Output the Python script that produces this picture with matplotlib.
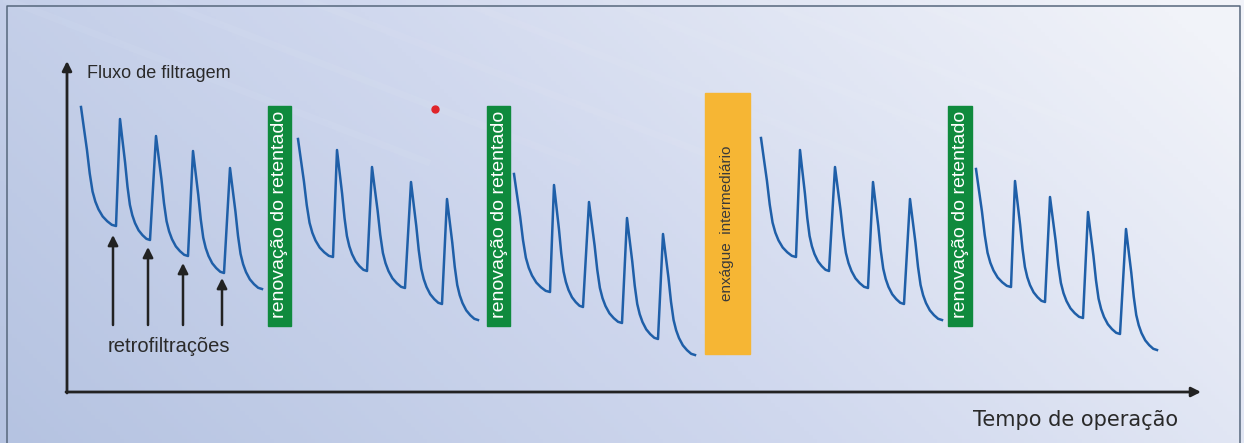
import numpy as np
import matplotlib
matplotlib.use("Agg")
import matplotlib.pyplot as plt
from matplotlib.patches import Rectangle
from matplotlib.colors import LinearSegmentedColormap

# ---------------- DATA (time / flux units, origin at the axes corner) ----------------
# peaks and troughs of each filtration run (5 runs, 5 cycles each)
peak_t = [
    [14, 53, 89, 126, 163],
    [231, 270, 305, 344, 380],
    [447, 487, 522, 560, 596],
    [694, 733, 768, 806, 843],
    [909, 948, 983, 1021, 1059],
]
peak_f = [
    [285, 273, 256, 241, 224],
    [253, 242, 225, 210, 193],
    [218, 207, 190, 174, 158],
    [254, 242, 225, 210, 193],
    [223, 211, 195, 180, 163],
]
trough_t = [
    [49, 83, 121, 157, 195],
    [266, 300, 338, 375, 411],
    [483, 516, 555, 591, 628],
    [729, 762, 801, 837, 875],
    [944, 978, 1016, 1053, 1090],
]
trough_f = [
    [166, 152, 136, 119, 103],
    [135, 121, 104, 88, 72],
    [100, 85, 69, 53, 37],
    [135, 121, 104, 88, 72],
    [105, 90, 74, 58, 42],
]

# shape of one fouling decay (fraction of run / fraction of drop)
decay_fx = [0, 0.075, 0.17, 0.25, 0.33, 0.41, 0.50, 0.62, 0.75, 0.88, 1.0]
decay_fy = [0, 0.16, 0.36, 0.56, 0.71, 0.795, 0.86, 0.92, 0.96, 0.99, 1.0]

# events between runs
event_start = [201, 420, 638, 881]
event_end = [224, 443, 683, 905]
event_labels = ["renovação do retentado", "renovação do retentado",
                "enxágue  intermediário", "renovação do retentado"]

# backflush arrows
backflush_t = [46, 81, 116, 155]
backflush_f = [157, 145, 129, 114]

# ---------------- FIGURE ----------------
fig = plt.figure(figsize=(12.44, 4.43), dpi=100)
ax = fig.add_axes([0, 0, 1, 1])
ax.set_xlim(-67, 1177)
ax.set_ylim(-51, 392)
ax.axis("off")

# background gradient
gx, gy = np.meshgrid(np.linspace(0, 1, 300), np.linspace(1, 0, 110))
grad = 0.8 * gx + 0.3 * gy
cmap = LinearSegmentedColormap.from_list("bg", ["#b5c3e1", "#d0d8ee", "#f1f3f9"])
ax.imshow(grad, extent=[-67, 1177, -51, 392], aspect="auto", cmap=cmap,
          vmin=0.0, vmax=1.05, zorder=0)
# faint diagonal streaks
for k in range(9):
    t0 = -60 + k * 150
    ax.plot([t0, t0 + 420], [392, 230], color="white", alpha=0.05, lw=5, zorder=0.5)

# frame
ax.plot([-60, -60, 1173, 1173], [-51, 386, 386, -51], color="#56677c", lw=1.1, zorder=1)

# flux curve
for r in range(len(peak_t)):
    ts, fs = [], []
    for c in range(len(peak_t[r])):
        t0, f0 = peak_t[r][c], peak_f[r][c]
        t1, f1 = trough_t[r][c], trough_f[r][c]
        for fx, fy in zip(decay_fx, decay_fy):
            ts.append(t0 + fx * (t1 - t0))
            fs.append(f0 + fy * (f1 - f0))
    ax.plot(ts, fs, color="#1f5fa8", lw=1.8, solid_joinstyle="round", zorder=3)

# events
for s, e, lab in zip(event_start, event_end, event_labels):
    if "enx" in lab:
        ax.add_patch(Rectangle((s, 38), e - s, 261, color="#f6b634", zorder=2))
        ax.text((s + e) / 2, 169, lab, rotation=90, ha="center", va="center",
                fontsize=11, color="#3a3a3a", family="Liberation Sans", zorder=4)
    else:
        ax.add_patch(Rectangle((s, 66), e - s, 220, color="#0f8a3d", zorder=2))
        ax.text((s + e) / 2 + 0.5, 178, lab, rotation=90, ha="center", va="center",
                fontsize=14, color="white", family="Liberation Sans", zorder=4)

# axes arrows
arrow_kw = dict(arrowstyle="-|>", lw=2, color="#222222", mutation_scale=14,
                shrinkA=0, shrinkB=0)
ax.annotate("", xy=(0, 331), xytext=(0, -1), arrowprops=arrow_kw, zorder=5)
ax.annotate("", xy=(1134, 0), xytext=(-1, 0), arrowprops=arrow_kw, zorder=5)

# backflush arrows
for t, f in zip(backflush_t, backflush_f):
    ax.annotate("", xy=(t, f), xytext=(t, 67),
                arrowprops=dict(arrowstyle="-|>", lw=1.8, color="#222222",
                                mutation_scale=15, shrinkA=0, shrinkB=0), zorder=5)

# labels
ax.text(20, 319, "Fluxo de filtragem", ha="left", va="center", fontsize=13,
        color="#2a2a2a", family="Liberation Sans")
ax.text(102, 45, "retrofiltrações", ha="center", va="center", fontsize=14.5,
        color="#2a2a2a", family="Liberation Sans")
ax.text(1009, -28, "Tempo de operação", ha="center", va="center", fontsize=15,
        color="#2a2a2a", family="DejaVu Sans")

# stray red dot
ax.plot([368], [283], "o", color="#e0242a", ms=5, zorder=5)

fig.savefig("out.png", dpi=100)
